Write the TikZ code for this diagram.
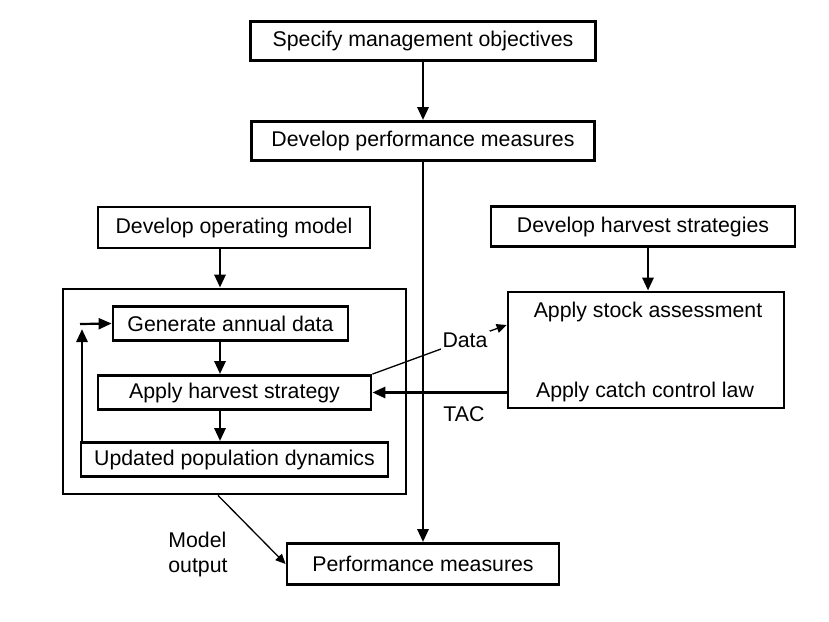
\documentclass[tikz,border=0pt]{standalone}
\usepackage{fontspec}
\setmainfont{Liberation Sans}
\usetikzlibrary{arrows.meta}
\usetikzlibrary{positioning}
\tikzset{
    box/.style args={#1x#2}{draw, line width=2.8pt, minimum width=#1, minimum height=#2, inner sep=0pt},
    flow/.style={-{Triangle[length=13pt, width=11pt]}, line width=2.9pt},
    thin flow/.style={-{Triangle[length=10pt, width=9pt]}, line width=1.3pt},
}

\begin{document}
\begin{tikzpicture}[x=1pt, y=-1pt, every node/.style={font=\fontsize{21.3}{25}\selectfont}]

    \useasboundingbox (0,0) rectangle (829,621);

    % planning steps
    \node[box=345x39] (obj) at (423,41) {Specify management objectives};
    \node[box=343x39] (dpm) at (423,141) {Develop performance measures};
    \node[box=272x41] (dom) at (234,227.5) {Develop operating model};
    \node[box=304x40] (dhs) at (643,226.5) {Develop harvest strategies};

    % operating model
    \node[box=343x205] (om) at (234.5,391.5) {};
    \node[box=235x34] (gen) at (230.5,323.5) {Generate annual data};
    \node[box=273x34] (ahs) at (234.5,392.5) {Apply harvest strategy};
    \node[box=307x34] (upd) at (234.5,459.5) {Updated population dynamics};

    % harvest strategy
    \node[box=276x116] (est) at (646,350) {};
    \node (sa) at (648,312) {Apply stock assessment};
    \node (ccl) at (645,392) {Apply catch control law};

    \node[box=272x41] (pm) at (423,564) {Performance measures};

    \node[align=left, inner sep=0pt] (mout) at (198,554) {Model\\output};
    \node (tac) at (464,414) {TAC};

    \coordinate (loop) at (80,324);
    \coordinate (loop up) at (82,329);

    \draw[flow] (obj) -- (dpm);
    \draw[flow] (dpm) -- (pm);
    \draw[flow] (dom.south -| 220,0) -- (om.north -| 220,0);
    \draw[flow] (dhs.south -| 648,0) -- (est.north -| 648,0);
    \draw[flow] (gen.south -| 220,0) -- (ahs.north -| 220,0);
    \draw[flow] (ahs.south -| 220,0) -- (upd.north -| 220,0);
    \draw[flow] (upd.north -| loop up) -- (loop up);
    \draw[flow, line width=2.2pt] (loop) -- (gen.west);
    \draw[flow] (est.west |- ahs.east) -- (ahs.east);
    \draw[thin flow] (ahs.north east) -- node[pos=0.69, fill=white, inner sep=2pt] (data) {Data} (est.west |- 0,325);
    \draw[thin flow] (om.south -| 218,0) -- (pm.west);

\end{tikzpicture}
\end{document}
